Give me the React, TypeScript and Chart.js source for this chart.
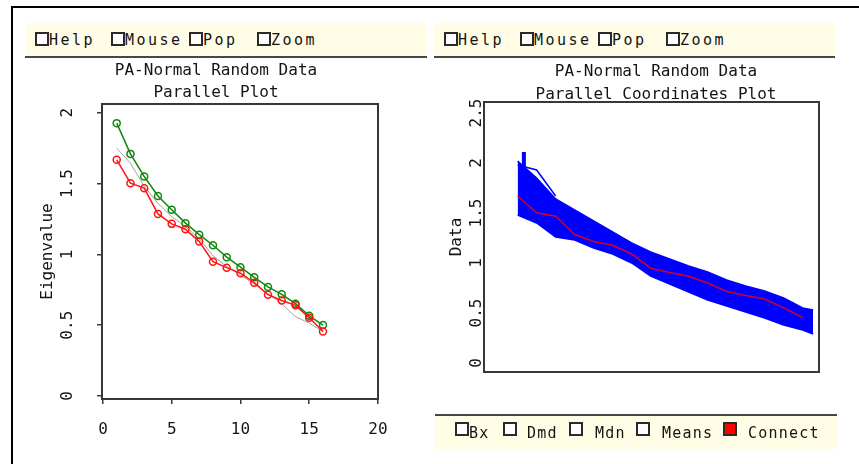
import { useEffect, useRef } from 'react'
import { Chart, registerables } from 'chart.js'
import type { ChartConfiguration, Plugin, Scale } from 'chart.js'

Chart.register(...registerables)

const MONO = "'DejaVu Sans Mono', 'Liberation Mono', monospace"
const INK = '#141414'
const AXIS = '#383838'
const BAR = '#fffde6'

// eigenvalue number (scree plot) and variable number (parallel plot)
const factors = [1, 2, 3, 4, 5, 6, 7, 8, 9, 10, 11, 12, 13, 14, 15, 16]
// eigenvalues of the real data, red
const realEigen = [1.667, 1.502, 1.467, 1.285, 1.215, 1.177, 1.09, 0.948, 0.906, 0.867, 0.8, 0.715, 0.674, 0.64, 0.552, 0.455]
// upper percentile of the random eigenvalues, green
const randomHigh = [1.926, 1.709, 1.549, 1.412, 1.314, 1.22, 1.139, 1.064, 0.98, 0.909, 0.838, 0.77, 0.718, 0.652, 0.566, 0.501]
// mean random eigenvalue, grey
const randomMean = [1.749, 1.643, 1.48, 1.36, 1.266, 1.196, 1.11, 0.99, 0.913, 0.854, 0.79, 0.722, 0.65, 0.56, 0.515, 0.455]

const screeXTicks = [0, 5, 10, 15, 20]
const screeYTicks = [0, 0.5, 1, 1.5, 2]

// parallel coordinates: envelope of all random runs
const bandVars = [1, 2, 3, 4, 5, 6, 7, 8, 9, 10, 11, 12, 13, 14, 15, 16, 16.55]
const bandHigh = [2.02, 1.85, 1.64, 1.53, 1.42, 1.31, 1.2, 1.11, 1.04, 0.97, 0.91, 0.83, 0.77, 0.72, 0.65, 0.55, 0.53]
const bandLow = [1.48, 1.4, 1.26, 1.23, 1.15, 1.09, 1.0, 0.87, 0.79, 0.71, 0.63, 0.57, 0.51, 0.45, 0.38, 0.33, 0.29]
// one run that sticks out above the band
const strayVars = [1, 2, 3]
const strayVals = [1.98, 1.93, 1.67]
const spikeVars = [1.33, 1.33]
const spikeVals = [1.9, 2.11]
const parallelYTicks = [0, 0.5, 1, 1.5, 2, 2.5]

const topTools = [
  { label: 'Help', box: 10, text: 24 },
  { label: 'Mouse', box: 86, text: 100 },
  { label: 'Pop', box: 164, text: 178 },
  { label: 'Zoom', box: 232, text: 246 },
]
const bottomTools = [
  { label: 'Bx', box: 20, text: 34 },
  { label: 'Dmd', box: 68, text: 92 },
  { label: 'Mdn', box: 134, text: 160 },
  { label: 'Means', box: 201, text: 227 },
  { label: 'Connect', box: 288, text: 313, on: true },
]

const pts = (xs: number[], ys: number[]) => xs.map((x, i) => ({ x, y: ys[i] }))

// titles, white plot box with border, and sideways y tick labels
const framePlugin: Plugin<'line'> = {
  id: 'frame',
  beforeDraw(chart, _args, opts: any) {
    const { ctx } = chart
    ctx.save()
    ctx.font = `16px ${MONO}`
    ctx.fillStyle = INK
    ctx.textAlign = 'center'
    ctx.textBaseline = 'alphabetic'
    opts.title.forEach((line: string, i: number) => {
      ctx.fillText(line, opts.titleX, opts.titleY + i * opts.lineGap)
    })
    ctx.restore()
  },
  beforeDatasetsDraw(chart) {
    const { ctx, chartArea: a } = chart
    ctx.save()
    ctx.fillStyle = '#ffffff'
    ctx.fillRect(a.left, a.top, a.width, a.height)
    ctx.restore()
  },
  afterDatasetsDraw(chart) {
    const { ctx, chartArea: a } = chart
    ctx.save()
    ctx.strokeStyle = AXIS
    ctx.lineWidth = 2
    ctx.strokeRect(a.left, a.top, a.width, a.height)
    ctx.restore()
  },
  afterDraw(chart, _args, opts: any) {
    const { ctx, chartArea } = chart
    const y = chart.scales.y
    ctx.save()
    ctx.font = `16px ${MONO}`
    ctx.fillStyle = INK
    ctx.textAlign = 'center'
    ctx.textBaseline = 'middle'
    y.ticks.forEach(t => {
      ctx.save()
      ctx.translate(chartArea.left - opts.labelGap, y.getPixelForValue(t.value))
      ctx.rotate(-Math.PI / 2)
      ctx.fillText(String(t.value), 0, 0)
      ctx.restore()
    })
    ctx.restore()
  },
}

const fixTicks = (values: number[]) => (scale: Scale) => {
  scale.ticks = values.map(value => ({ value }))
}

function ScreePlot() {
  const canvasRef = useRef<HTMLCanvasElement>(null)

  useEffect(() => {
    if (!canvasRef.current) return
    const marker = (color: string) => ({
      borderColor: color,
      borderWidth: 1.5,
      pointRadius: 3.5,
      pointBorderWidth: 1.5,
      pointBorderColor: color,
      pointBackgroundColor: 'rgba(0,0,0,0)',
      fill: false,
    })
    const config: ChartConfiguration<'line'> = {
      type: 'line',
      data: {
        datasets: [
          { label: 'Real data', data: pts(factors, realEigen), ...marker('#ff1414') },
          { label: 'Random data', data: pts(factors, randomHigh), ...marker('#0d8a0d') },
          {
            label: 'Random mean',
            data: pts(factors, randomMean),
            borderColor: '#a3a3a3',
            borderWidth: 1,
            pointRadius: 0,
            fill: false,
          },
        ],
      },
      options: {
        responsive: false,
        animation: false,
        events: [],
        layout: { padding: { top: 47, right: 29, bottom: 0, left: 0 } },
        plugins: {
          legend: { display: false },
          tooltip: { enabled: false },
          frame: {
            title: ['PA-Normal Random Data', 'Parallel Plot'],
            titleX: 191,
            titleY: 17.5,
            lineGap: 22,
            labelGap: 34,
          },
        } as any,
        scales: {
          x: {
            type: 'linear',
            min: -0.07,
            max: 20,
            afterBuildTicks: fixTicks(screeXTicks),
            afterFit: scale => {
              scale.height = 51
            },
            grid: { drawOnChartArea: false, drawTicks: true, tickLength: 5, color: AXIS, lineWidth: 1.5 },
            border: { display: false },
            ticks: { font: { family: MONO, size: 16 }, color: INK, padding: 16, maxRotation: 0 },
          },
          y: {
            type: 'linear',
            min: -0.021,
            max: 2.061,
            afterBuildTicks: fixTicks(screeYTicks),
            afterFit: scale => {
              scale.width = 77
            },
            grid: { drawOnChartArea: false, drawTicks: true, tickLength: 5, color: AXIS, lineWidth: 1.5 },
            border: { display: false },
            ticks: { display: false },
            title: {
              display: true,
              text: 'Eigenvalue',
              color: INK,
              font: { family: MONO, size: 16 },
              padding: { top: 13, bottom: 0 },
            },
          },
        },
      },
      plugins: [framePlugin],
    }
    const chart = new Chart(canvasRef.current, config)
    return () => chart.destroy()
  }, [])

  return <canvas ref={canvasRef} width={382} height={393} style={{ position: 'absolute', left: 25, top: 57 }} />
}

function ParallelPlot() {
  const canvasRef = useRef<HTMLCanvasElement>(null)

  useEffect(() => {
    if (!canvasRef.current) return
    const blue = '#0000ff'
    const config: ChartConfiguration<'line'> = {
      type: 'line',
      data: {
        datasets: [
          {
            label: 'Real data',
            data: pts(factors, realEigen),
            borderColor: '#d0002c',
            borderWidth: 1.5,
            pointRadius: 0,
            fill: false,
          },
          { label: 'Stray run', data: pts(strayVars, strayVals), borderColor: blue, borderWidth: 1.5, pointRadius: 0, fill: false },
          { label: 'Spike', data: pts(spikeVars, spikeVals), borderColor: blue, borderWidth: 4, pointRadius: 0, fill: false },
          {
            label: 'Random high',
            data: pts(bandVars, bandHigh),
            borderColor: blue,
            backgroundColor: blue,
            borderWidth: 1.5,
            pointRadius: 0,
            fill: '+1',
          },
          {
            label: 'Random low',
            data: pts(bandVars, bandLow),
            borderColor: blue,
            borderWidth: 1.5,
            pointRadius: 0,
            fill: false,
          },
        ],
      },
      options: {
        responsive: false,
        animation: false,
        events: [],
        layout: { padding: { top: 45, right: 19, bottom: 43, left: 0 } },
        plugins: {
          legend: { display: false },
          tooltip: { enabled: false },
          frame: {
            title: ['PA-Normal Random Data', 'Parallel Coordinates Plot'],
            titleX: 222,
            titleY: 18.5,
            lineGap: 23,
            labelGap: 7,
          },
        } as any,
        scales: {
          x: { type: 'linear', min: -0.77, max: 16.86, display: false },
          y: {
            type: 'linear',
            min: -0.09,
            max: 2.61,
            afterBuildTicks: fixTicks(parallelYTicks),
            afterFit: scale => {
              scale.width = 50
            },
            grid: { display: false },
            border: { display: false },
            ticks: { display: false },
            title: {
              display: true,
              text: 'Data',
              color: INK,
              font: { family: MONO, size: 16 },
              padding: { top: 13, bottom: 0 },
            },
          },
        },
      },
      plugins: [framePlugin],
    }
    const chart = new Chart(canvasRef.current, config)
    return () => chart.destroy()
  }, [])

  return <canvas ref={canvasRef} width={404} height={358} style={{ position: 'absolute', left: 434, top: 57 }} />
}

type Tool = { label: string; box: number; text: number; on?: boolean }

function Toolbar({ left, top, width, tools, edge, spacing, boxShift }: {
  left: number
  top: number
  width: number
  tools: Tool[]
  edge: 'top' | 'bottom'
  spacing: number
  boxShift: number
}) {
  const line = '2px solid #474747'
  return (
    <div
      style={{
        position: 'absolute',
        left,
        top,
        width,
        height: 33,
        background: BAR,
        borderTop: edge === 'top' ? line : undefined,
        borderBottom: edge === 'bottom' ? line : undefined,
        fontFamily: MONO,
        fontSize: 15,
        color: INK,
      }}
    >
      {tools.map(t => (
        <div key={t.label}>
          <div
            style={{
              position: 'absolute',
              left: t.box,
              top: 9 + boxShift,
              width: 10,
              height: 10,
              border: '2px solid #2a2a2a',
              background: t.on ? '#ff0000' : '#ffffff',
            }}
          />
          <div
            style={{
              position: 'absolute',
              left: t.text,
              top: 1,
              height: 33,
              lineHeight: '33px',
              letterSpacing: spacing,
              whiteSpace: 'nowrap',
            }}
          >
            {t.label}
          </div>
        </div>
      ))}
    </div>
  )
}

export default function App() {
  return (
    <div style={{ position: 'absolute', left: 0, top: 0, width: 859, height: 464, overflow: 'hidden', background: '#ffffff' }}>
      <div
        style={{
          position: 'absolute',
          left: 11,
          top: 6,
          width: 860,
          height: 470,
          borderTop: '2px solid #000',
          borderLeft: '2px solid #000',
        }}
      />
      <Toolbar left={25} top={23} width={402} tools={topTools} edge="bottom" spacing={2.5} boxShift={0} />
      <Toolbar left={434} top={23} width={401} tools={topTools} edge="bottom" spacing={2.5} boxShift={0} />
      <ScreePlot />
      <ParallelPlot />
      <Toolbar left={435} top={414} width={402} tools={bottomTools} edge="top" spacing={1.2} boxShift={-3} />
    </div>
  )
}
